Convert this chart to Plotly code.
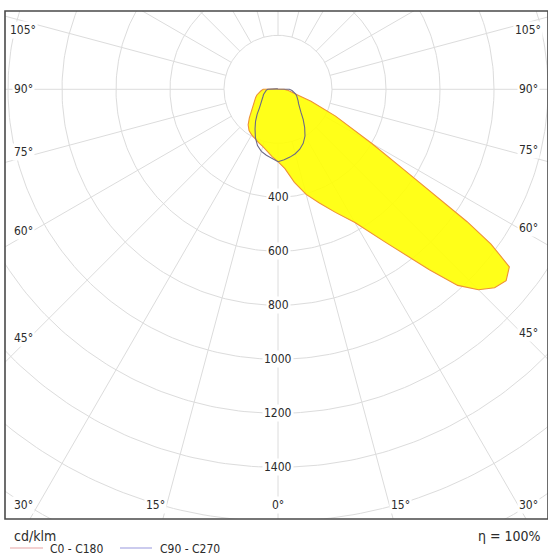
import numpy as np
import plotly.graph_objects as go

# ---------------- data (cd/klm vs gamma angle from nadir, degrees) ----------------
gamma_c0 = [0, 5, 10, 15, 20, 25, 30, 35, 40, 42.5, 45, 47.5, 50, 52.5, 54, 55, 57.5,
            60, 65, 70, 75, 80, 85, 90, 95, 100, 110, 120, 135, 150, 165, 180]
i_c0 = [268, 295, 350, 403, 448, 503, 570, 690, 872, 985, 1050, 1088, 1103, 1080, 975, 855, 550,
        400, 235, 130, 65, 50, 35, 22, 10, 5, 3, 2, 1, 1, 0, 0]

gamma_c180 = [0, 5, 10, 15, 20, 25, 30, 35, 40, 45, 50, 55, 60, 65, 70, 75, 80, 85, 90,
              95, 100, 110, 120, 135, 150, 165, 180]
i_c180 = [268, 250, 233, 219, 210, 202, 195, 187, 172, 150, 130, 113, 102, 95, 88, 81, 72, 63, 55,
          15, 6, 3, 2, 1, 1, 0, 0]

gamma_c90 = [0, 5, 10, 15, 20, 25, 30, 35, 40, 45, 50, 55, 60, 65, 70, 75, 80, 85, 90,
             95, 100, 110, 120, 135, 150, 165, 180]
i_c90 = [268, 262, 255, 247, 236, 221, 200, 172, 145, 120, 103, 93, 86, 80, 74, 68, 60, 52, 42,
         20, 10, 5, 3, 1, 1, 0, 0]

gamma_c270 = [0, 5, 10, 15, 20, 25, 30, 35, 40, 45, 50, 55, 60, 65, 70, 75, 80, 85, 90,
              95, 100, 110, 120, 135, 150, 165, 180]
i_c270 = [268, 258, 248, 238, 222, 198, 170, 145, 120, 97, 82, 72, 66, 61, 57, 52, 48, 44, 38,
          18, 9, 5, 3, 1, 1, 0, 0]

grid_radii = [200, 400, 600, 800, 1000, 1200, 1400, 1600, 1800, 2000, 2200]
radial_tick_labels = [400, 600, 800, 1000, 1200, 1400]
spoke_angles = list(range(0, 360, 15))
side_angle_labels = [105, 90, 75, 60, 45, 30]
bottom_angle_labels = [15, 0]

series_names = ["C0 - C180", "C90 - C270"]
unit_label = "cd/klm"
efficiency_label = "η = 100%"

# ---------------- layout geometry ----------------
W, H = 548, 560
ML, MR, MT, MB = 5, 0, 11, 41
PW, PH = W - ML - MR, H - MT - MB
CX, CY = 278.0, 89.3          # pole position in pixels
PX_PER_UNIT = 0.27
K = 1.0 / PX_PER_UNIT

x_range = [(ML - CX) * K, (W - MR - CX) * K]
y_range = [-(H - MB - CY) * K, (CY - MT) * K]

FONT = "DejaVu Sans Condensed, DejaVu Sans, sans-serif"
TXT = "#2b2b2b"
GRID = "#dcdcdc"
LBL = 12


def px_to_paper_x(px):
    return (px - ML) / PW


def px_to_paper_y(py):
    return 1 - (py - MT) / PH


def loop_xy(g_left, i_left, g_right, i_right):
    gl = np.radians(np.array(g_left, dtype=float))[::-1]
    il = np.array(i_left, dtype=float)[::-1]
    gr = np.radians(np.array(g_right, dtype=float))
    ir = np.array(i_right, dtype=float)
    x = np.concatenate([-il * np.sin(gl), ir * np.sin(gr)])
    y = np.concatenate([-il * np.cos(gl), -ir * np.cos(gr)])
    return x, y


fig = go.Figure()

# grid circles
cx, cy = [], []
t = np.linspace(0, 2 * np.pi, 361)
for r in grid_radii:
    cx += list(r * np.cos(t)) + [None]
    cy += list(r * np.sin(t)) + [None]
# spokes (start at first circle)
sx, sy = [], []
for a in spoke_angles:
    ar = np.radians(a)
    sx += [grid_radii[0] * np.sin(ar), 3000 * np.sin(ar), None]
    sy += [-grid_radii[0] * np.cos(ar), -3000 * np.cos(ar), None]

fig.add_trace(go.Scatter(x=cx, y=cy, mode="lines", line=dict(color=GRID, width=1),
                         hoverinfo="skip", showlegend=False))
fig.add_trace(go.Scatter(x=sx, y=sy, mode="lines", line=dict(color=GRID, width=1),
                         hoverinfo="skip", showlegend=False))

# C0 - C180 filled curve
x0, y0 = loop_xy(gamma_c180, i_c180, gamma_c0, i_c0)
fig.add_trace(go.Scatter(x=x0, y=y0, mode="lines", fill="toself",
                         fillcolor="rgba(255,255,0,0.9)",
                         line=dict(color="#ee9236", width=1.1),
                         name=series_names[0], showlegend=False))
# C90 - C270 curve
x9, y9 = loop_xy(gamma_c270, i_c270, gamma_c90, i_c90)
x9 = np.append(x9, x9[0]); y9 = np.append(y9, y9[0])
fig.add_trace(go.Scatter(x=x9, y=y9, mode="lines",
                         line=dict(color="#6c6a86", width=1.1),
                         name=series_names[1], showlegend=False))

annotations = []
# radial tick labels
for r in radial_tick_labels:
    annotations.append(dict(x=0, y=-r, xref="x", yref="y", text=str(r), showarrow=False,
                            font=dict(family=FONT, size=LBL, color=TXT), bgcolor="white",
                            borderpad=1, xanchor="center", yanchor="middle"))

# angle labels on the sides
left_in, right_in, bot_in, top_in = 23, 528, 505, 30
for a in side_angle_labels:
    ar = np.radians(a)
    for side, xin in ((-1, left_in), (1, right_in)):
        dxp = abs(xin - CX)
        tpar = dxp / np.sin(ar)
        yp = CY + np.cos(ar) * tpar
        yanchor, yshift = "middle", 0
        if yp > bot_in:
            yp = bot_in
        elif yp < top_in:
            yp = top_in
        elif a < 90:
            yanchor, yshift = "bottom", -3
        annotations.append(dict(x=px_to_paper_x(xin), y=px_to_paper_y(yp), xref="paper", yref="paper",
                                text=f"{a}°", showarrow=False, yshift=yshift,
                                font=dict(family=FONT, size=LBL, color=TXT), bgcolor="white",
                                borderpad=1, xanchor="center", yanchor=yanchor))
# angle labels on the bottom
for a in bottom_angle_labels:
    ar = np.radians(a)
    sides = (-1, 1) if a else (0,)
    for side in sides:
        xp = CX + side * np.tan(ar) * (bot_in - CY)
        xa = {-1: "right", 1: "left", 0: "center"}[side]
        annotations.append(dict(x=px_to_paper_x(xp), y=px_to_paper_y(bot_in), xref="paper", yref="paper",
                                text=f"{a}°", showarrow=False,
                                font=dict(family=FONT, size=LBL, color=TXT), bgcolor="white",
                                borderpad=1, xanchor=xa, yanchor="middle"))

# footer texts
annotations.append(dict(x=px_to_paper_x(12), y=px_to_paper_y(536), xref="paper", yref="paper",
                        text=unit_label, showarrow=False, xanchor="left", yanchor="middle",
                        font=dict(family=FONT, size=14, color=TXT)))
annotations.append(dict(x=px_to_paper_x(543), y=px_to_paper_y(536), xref="paper", yref="paper",
                        text=efficiency_label, showarrow=False, xanchor="right", yanchor="middle",
                        font=dict(family=FONT, size=14, color=TXT)))

# legend (drawn in footer)
legend_items = [(series_names[0], "#e8a4a4", 10, 43, 48), (series_names[1], "#a8a8e2", 120, 152, 158)]
shapes = []
for name, col, lx0, lx1, tx in legend_items:
    shapes.append(dict(type="line", xref="paper", yref="paper",
                       x0=px_to_paper_x(lx0), x1=px_to_paper_x(lx1),
                       y0=px_to_paper_y(548), y1=px_to_paper_y(548),
                       line=dict(color=col, width=1.2)))
    annotations.append(dict(x=px_to_paper_x(tx), y=px_to_paper_y(549), xref="paper", yref="paper",
                            text=name, showarrow=False, xanchor="left", yanchor="middle",
                            font=dict(family=FONT, size=LBL, color=TXT)))

# frame
shapes.append(dict(type="rect", xref="paper", yref="paper", x0=0, x1=1, y0=0, y1=1,
                   line=dict(color="#4a4a4a", width=1.6), layer="above"))

fig.update_layout(
    width=W, height=H,
    margin=dict(l=ML, r=MR, t=MT, b=MB, pad=0),
    paper_bgcolor="white", plot_bgcolor="white",
    xaxis=dict(range=x_range, visible=False, showgrid=False, zeroline=False, fixedrange=True),
    yaxis=dict(range=y_range, visible=False, showgrid=False, zeroline=False, fixedrange=True),
    annotations=annotations, shapes=shapes, showlegend=False,
)

fig.write_html("out.html", config={"displayModeBar": False},
               post_script="document.body.style.margin='0';document.body.style.overflow='hidden';")
